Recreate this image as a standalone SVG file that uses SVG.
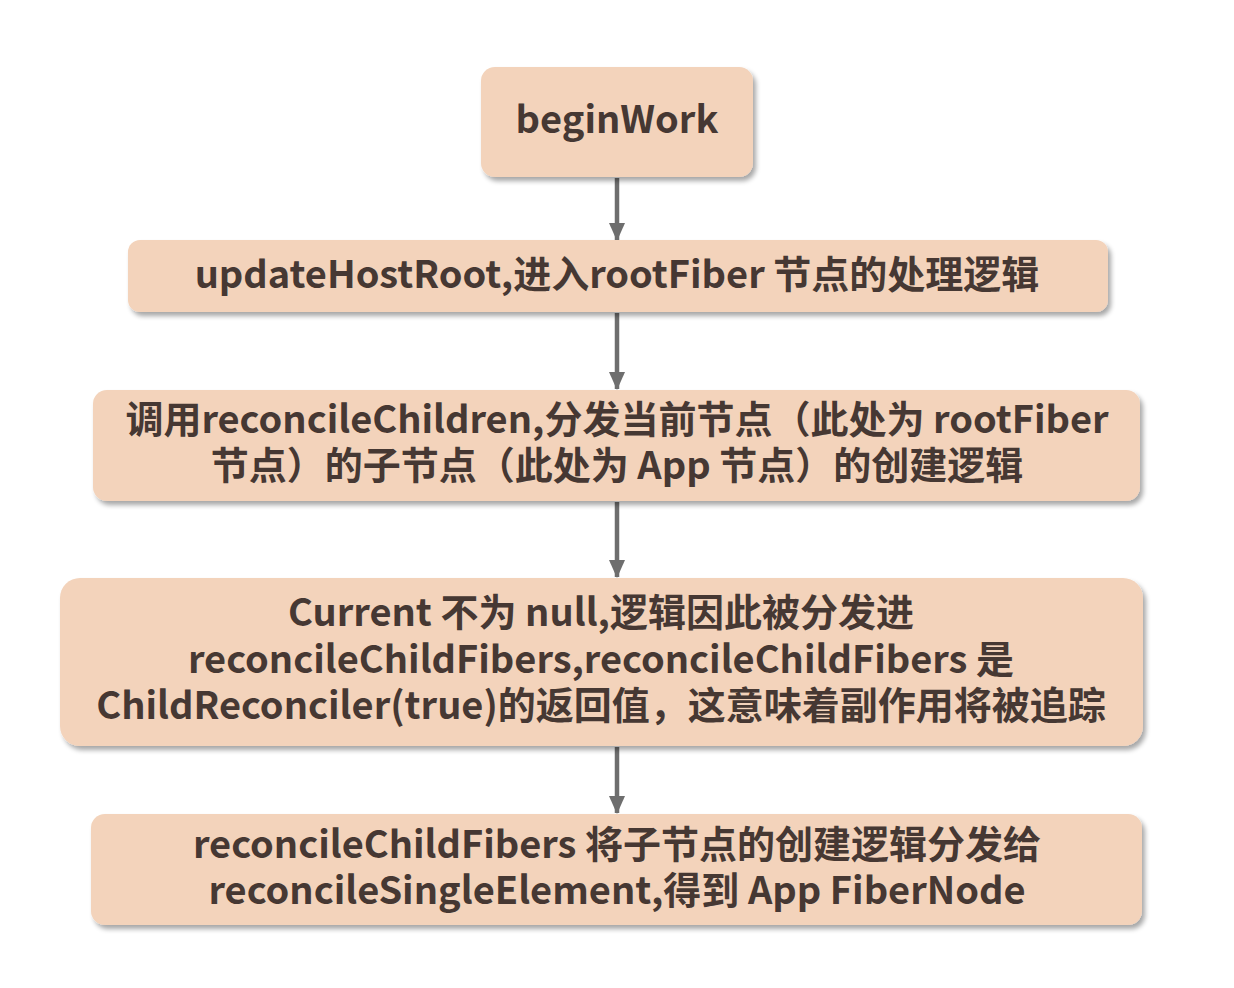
<svg xmlns="http://www.w3.org/2000/svg" width="1234" height="988" viewBox="0 0 1234 988">
<defs>
<style>
.box{fill:#f3d3bb;filter:url(#sh);}
.t{font-family:"Noto Sans CJK SC","Noto Sans",sans-serif;font-weight:bold;font-size:38px;fill:#463833;text-anchor:middle;}
.c{stroke:#6e6e6e;stroke-width:4.5;fill:none;marker-end:url(#ah);}
</style>
<filter id="sh" x="-5%" y="-20%" width="110%" height="140%">
<feGaussianBlur in="SourceAlpha" stdDeviation="2.5"/>
<feOffset dx="3" dy="4" result="b"/>
<feComponentTransfer><feFuncA type="linear" slope="0.35"/></feComponentTransfer>
<feMerge><feMergeNode/><feMergeNode in="SourceGraphic"/></feMerge>
</filter>
<marker id="ah" markerWidth="18" markerHeight="16" refX="17" refY="8" orient="auto" markerUnits="userSpaceOnUse">
<path d="M0,0 L18,8 L0,16 Z" fill="#6e6e6e"/>
</marker>
</defs>
<rect width="1234" height="988" fill="#ffffff"/>
<g id="connectors">
<line class="c" x1="617" y1="178" x2="617" y2="240"/>
<line class="c" x1="617" y1="313" x2="617" y2="389"/>
<line class="c" x1="617" y1="502" x2="617" y2="577"/>
<line class="c" x1="617" y1="747" x2="617" y2="813"/>
</g>
<g id="n1">
<rect class="box" x="481" y="67" width="272" height="110" rx="14"/>
<text class="t" x="617" y="133">beginWork</text>
</g>
<g id="n2">
<rect class="box" x="128" y="240" width="980" height="72" rx="12"/>
<text class="t" x="617" y="288">updateHostRoot,进入rootFiber 节点的处理逻辑</text>
</g>
<g id="n3">
<rect class="box" x="93" y="390" width="1047" height="111" rx="14"/>
<text class="t" x="617" y="433">调用reconcileChildren,分发当前节点（此处为 rootFiber</text>
<text class="t" x="617" y="479">节点）的子节点（此处为 App 节点）的创建逻辑</text>
</g>
<g id="n4">
<rect class="box" x="60" y="578" width="1083" height="168" rx="20"/>
<text class="t" x="601" y="626">Current 不为 null,逻辑因此被分发进</text>
<text class="t" x="601" y="673">reconcileChildFibers,reconcileChildFibers 是</text>
<text class="t" x="601" y="719">ChildReconciler(true)的返回值，这意味着副作用将被追踪</text>
</g>
<g id="n5">
<rect class="box" x="91" y="814" width="1051" height="111" rx="14"/>
<text class="t" x="617" y="858">reconcileChildFibers 将子节点的创建逻辑分发给</text>
<text class="t" x="617" y="904">reconcileSingleElement,得到 App FiberNode</text>
</g>
</svg>
